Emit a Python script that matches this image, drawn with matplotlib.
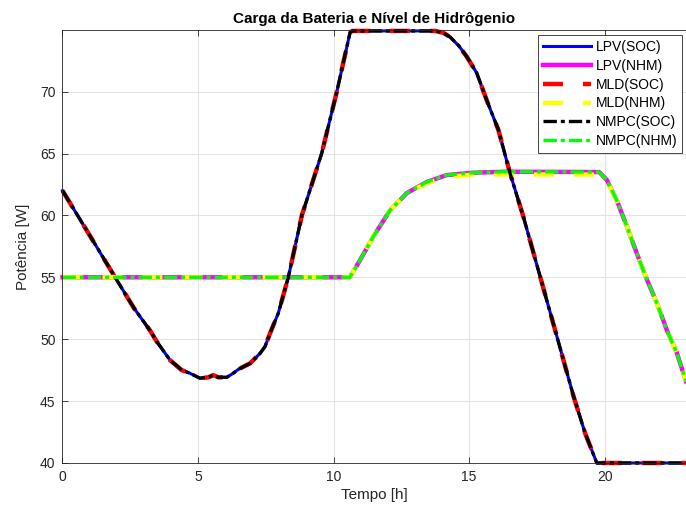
import matplotlib.pyplot as plt
import numpy as np

plt.rcParams['font.family'] = ['Liberation Sans', 'DejaVu Sans']

# battery charge (SOC) curve
soc_t = [0, 1.0, 1.94, 2.64, 3.23, 3.48, 3.97, 4.40, 4.70, 5.07, 5.38, 5.56,
         5.75, 6.06, 6.30, 6.49, 6.92, 7.29, 7.47, 7.66, 7.96, 8.33, 8.83,
         9.56, 10.12, 10.61, 10.70, 13.75, 14.05, 14.3, 14.62, 14.92, 15.28,
         15.65, 16.08, 16.51, 17.0, 17.62, 18.24, 18.85, 19.28, 19.71, 23.0]
soc_v = [62.0, 58.4, 55.0, 52.5, 50.7, 49.8, 48.3, 47.5, 47.25, 46.85, 46.92,
         47.1, 46.92, 46.92, 47.25, 47.57, 48.05, 48.86, 49.4, 50.5, 52.1, 55.0,
         60.0, 65.0, 70.0, 74.8, 74.9, 74.9, 74.75, 74.4, 73.7, 72.8, 71.5,
         69.3, 66.9, 63.4, 59.9, 55.05, 50.2, 45.4, 42.4, 40.0, 40.0]

# hydrogen level (NHM) curve
nhm_t = [0, 10.6, 10.98, 11.47, 12.08, 12.70, 13.44, 14.18, 15.16, 16.39,
         19.8, 20.08, 20.45, 20.82, 21.19, 21.56, 21.93, 22.30, 22.66, 23.0]
nhm_v = [55.0, 55.0, 56.4, 58.3, 60.4, 61.8, 62.7, 63.26, 63.45, 63.53,
         63.5, 62.86, 61.2, 59.1, 56.9, 54.8, 52.9, 50.7, 48.9, 46.6]
nhm_mld_v = [55.0, 55.0, 56.4, 58.3, 60.4, 61.8, 62.6, 63.1, 63.3, 63.3,
             63.3, 62.8, 61.2, 59.1, 56.9, 54.8, 52.9, 50.7, 48.9, 46.6]

fig = plt.figure(figsize=(6.86, 5.16), dpi=100)
ax = fig.add_axes([62.5 / 686, 1 - 463 / 516, 1 - 62.5 / 686, (463 - 29.7) / 516])

ax.plot(soc_t, soc_v, color='#0000ff', lw=2.2, label='LPV(SOC)', clip_on=False)
ax.plot(nhm_t, nhm_v, color='#ff00ff', lw=3.2, label='LPV(NHM)', clip_on=False)
ax.plot(soc_t, soc_v, color='#ff0000', lw=3.2, ls=(0, (4.5, 4.5)),
        label='MLD(SOC)', clip_on=False)
ax.plot(nhm_t, nhm_mld_v, color='#ffff00', lw=3.2, ls=(0, (4.5, 4.5)),
        label='MLD(NHM)', clip_on=False)
ax.plot(soc_t, soc_v, color='#000000', lw=2.4, ls=(0, (4, 1.2, 1.2, 1.2)),
        label='NMPC(SOC)', clip_on=False)
ax.plot(nhm_t, nhm_v, color='#00ff00', lw=2.4, ls=(0, (4, 1.2, 1.2, 1.2)),
        label='NMPC(NHM)', clip_on=False)

ax.set_xlim(0, 23)
ax.set_ylim(40, 75)
ax.set_xticks([0, 5, 10, 15, 20])
ax.set_yticks([40, 45, 50, 55, 60, 65, 70])
ax.grid(True, color='#e3e3e3', lw=0.8)
ax.set_axisbelow(True)
ax.tick_params(direction='in', top=True, right=False, length=4, width=0.6,
               labelsize=10, colors='#262626', pad=5)
for s in ax.spines.values():
    s.set_color('#262626')
    s.set_linewidth(0.6)
ax.spines['right'].set_visible(False)

ax.set_xlabel('Tempo [h]', fontsize=11, color='#262626', labelpad=3)
ax.set_ylabel('Potência [W]', fontsize=11, color='#262626', labelpad=7)
ax.set_title('Carga da Bateria e Nível de Hidrôgenio', fontsize=11,
             fontweight='bold', pad=5)

leg = ax.legend(loc='upper right', bbox_to_anchor=(682 / 686, 1 - 35 / 516),
                bbox_transform=fig.transFigure, borderaxespad=0, fontsize=10,
                handlelength=3.5, handletextpad=0.3, labelspacing=0.35,
                borderpad=0.35, fancybox=False, framealpha=1,
                edgecolor='#262626')
leg.get_frame().set_linewidth(0.6)

plt.savefig('out.png', dpi=100)
